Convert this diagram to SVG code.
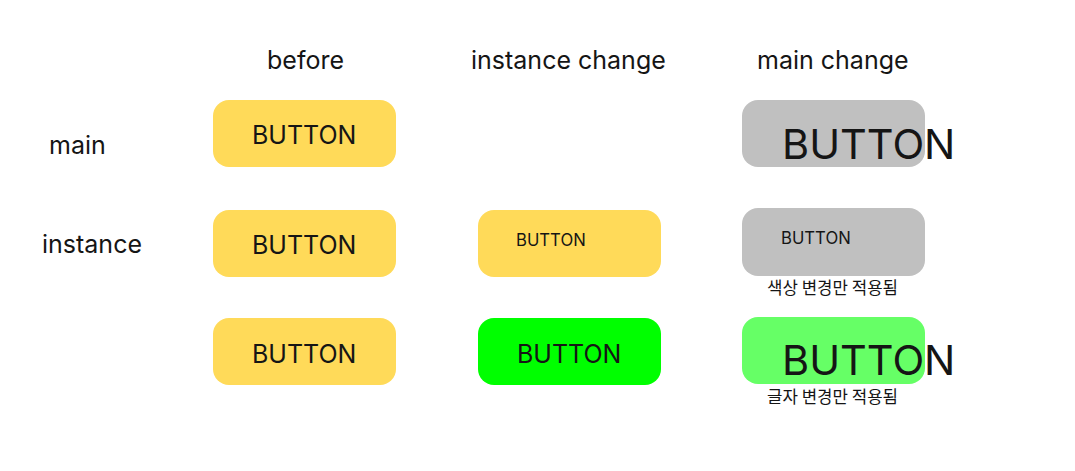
<svg xmlns="http://www.w3.org/2000/svg" width="1075" height="471" viewBox="0 0 1075 471">
<style>
text{font-family:Inter,"Noto Sans","Noto Sans CJK KR",sans-serif;fill:#151515}
.h{font-size:25px}
.b{font-size:25px}
.s{font-size:16.7px}
.l{font-size:41.5px}
.k{font-size:16.8px;font-family:"Noto Sans CJK KR",sans-serif}
.y{fill:#FFDA59}
.g{fill:#C0C0C0}
</style>
<rect width="1075" height="471" fill="#fff"/>
<g id="headers">
<text class="h" x="267" y="69">before</text>
<text class="h" x="471" y="69">instance change</text>
<text class="h" x="757" y="69">main change</text>
<text class="h" x="49" y="154">main</text>
<text class="h" x="42" y="253">instance</text>
</g>
<g id="before-main"><rect class="y" x="213" y="100" width="183" height="67" rx="16"/><text class="b" x="252" y="144">BUTTON</text></g>
<g id="before-instance1"><rect class="y" x="213" y="210" width="183" height="67" rx="16"/><text class="b" x="252" y="254">BUTTON</text></g>
<g id="before-instance2"><rect class="y" x="213" y="318" width="183" height="67" rx="16"/><text class="b" x="252" y="363">BUTTON</text></g>
<g id="ic-instance1"><rect class="y" x="478" y="210" width="183" height="67" rx="16"/><text class="s" x="516" y="246">BUTTON</text></g>
<g id="ic-instance2"><rect fill="#00FF00" x="478" y="318" width="183" height="67" rx="16"/><text class="b" x="517" y="363">BUTTON</text></g>
<g id="mc-main"><rect class="g" x="742" y="100" width="183" height="67" rx="16"/><text class="l" x="782" y="159">BUTTON</text></g>
<g id="mc-instance1"><rect class="g" x="742" y="208" width="183" height="68" rx="16"/><text class="s" x="781" y="244">BUTTON</text><text class="k" x="767" y="294">색상 변경만 적용됨</text></g>
<g id="mc-instance2"><rect fill="#66FF66" x="742" y="317" width="183" height="67" rx="16"/><text class="l" x="782" y="375">BUTTON</text><text class="k" x="767" y="403">글자 변경만 적용됨</text></g>
<g id="connectors"/>
</svg>
